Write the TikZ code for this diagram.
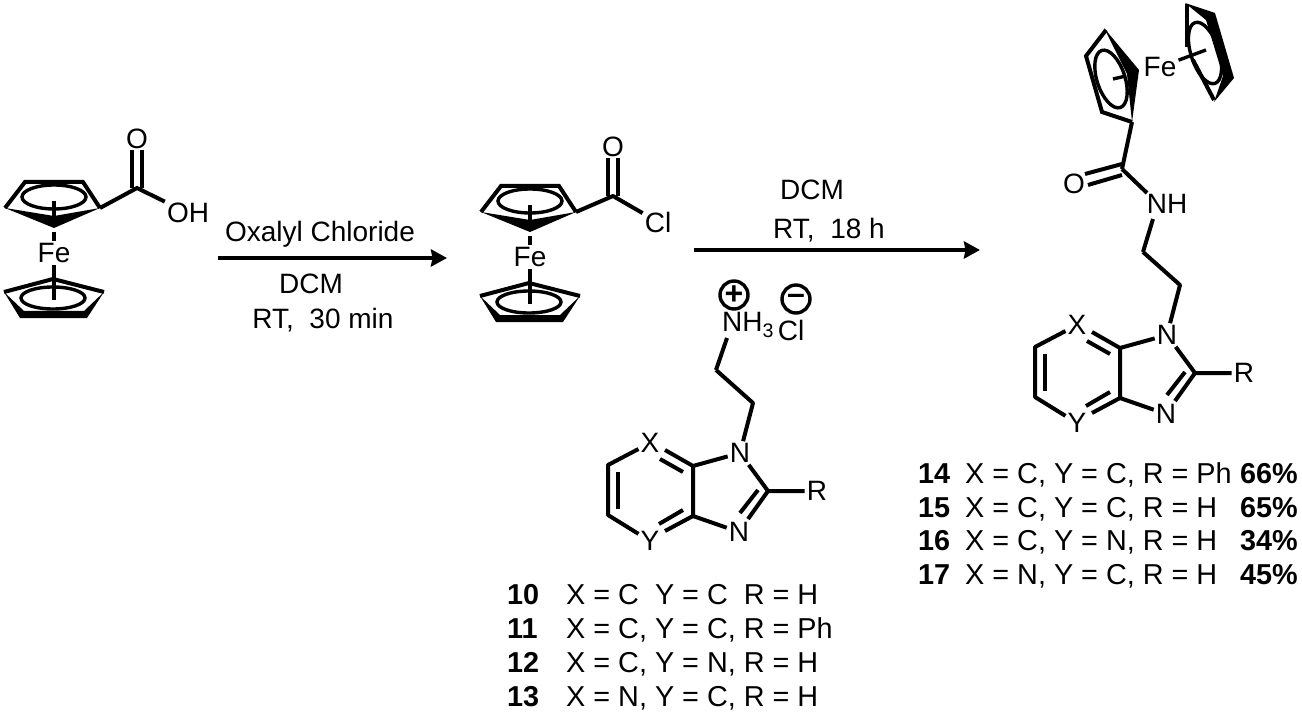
\documentclass[tikz,border=0pt]{standalone}
\usepackage{fontspec}
\setmainfont{Liberation Sans}
\usetikzlibrary{arrows.meta,calc}
\newcommand{\ferrocene}[2]{%
\begin{scope}[shift={(#1)},name prefix=#2-]
\coordinate (capL) at (5,208);
\coordinate (capA) at (25,182);
\coordinate (capB) at (83,182);
\coordinate (ipso) at (100,208);
\coordinate (capF) at (54,228);
\node[atom] (Fe) at (54,253) {Fe};
\draw[bond,line join=miter] (capL) -- (capA) -- (capB) -- (ipso);
\fill (capL) -- (54,216) -- (ipso) -- (capF) -- cycle;
\draw[ring] (54,197) ellipse [x radius=32pt,y radius=12pt];
\draw[ring] (54,201) -- (54,216);
\draw[ring] (54,232) -- (Fe);
%----------------------------------------------------------------
\coordinate (botL) at (4,292);
\coordinate (botA) at (53,279);
\coordinate (botR) at (104,292);
\draw[bond,line join=miter] (botL) -- (botA) -- (botR);
\fill (botL) -- (20,318) -- (87,318) -- (botR) -- (84,311) -- (24,311) -- cycle;
\draw[ring] (53,298) ellipse [x radius=32pt,y radius=11pt];
\draw[ring] (Fe) -- (54,300);
\end{scope}}
\newcommand{\azole}[2]{%
\begin{scope}[shift={(#1)},name prefix=#2-]
\node[atom] (N1) at (1167,335) {N};
\node[atom] (N3) at (1166,414) {N};
\node[atom] (X) at (1077,325) {X};
\node[atom] (Y) at (1077,423) {Y};
\node[atom] (R) at (1244,373) {R};
\coordinate (ch1) at (1180,285);
\coordinate (ch2) at (1143,252);
\coordinate (c2) at (1195,373);
\coordinate (c3a) at (1120,398);
\coordinate (c7a) at (1120,348);
\coordinate (c5) at (1035,397);
\coordinate (c6) at (1035,347);
%----------------------------------------------------------------
\draw[bond] (ch2) -- (ch1) -- (N1);
\draw[bond] (N1) -- (c7a) -- (c3a) -- (N3);
\draw[bond] (N1) -- (c2) -- (R);
\draw[bond] (c2) -- (1175,401);
\draw[bond] (1185,372) -- (1167,395);
\draw[bond] (X) -- (c6) -- (c5) -- (Y);
\draw[bond] (1045,354) -- (1045,391);
\draw[bond] (1092,332) -- (c7a);
\draw[bond] (1087,341) -- (1110,354);
\draw[bond] (1092,413) -- (c3a);
\draw[bond] (1086,406) -- (1110,392);
\end{scope}}
\begin{document}
\begin{tikzpicture}[x=1pt,y=-1pt,
	bond/.style={line width=4pt,line join=round},
	ring/.style={line width=3.4pt},
	atom/.style={inner sep=2pt,font=\fontsize{28}{30}\selectfont},
	tabtext/.style={inner sep=0pt,anchor=base west,font=\fontsize{28.8}{30}\selectfont},
	num/.style={inner sep=0pt,anchor=base west,font=\fontsize{28.8}{30}\selectfont\bfseries},
	yield/.style={inner sep=0pt,anchor=base east,font=\fontsize{28.8}{30}\selectfont\bfseries},
	charge/.style={draw,line width=3.4pt,circle,inner sep=0pt,font=\fontsize{32}{32}\selectfont\bfseries},
	step arrow/.style={line width=4pt,-{Stealth[length=16pt,width=17pt,inset=1.5pt]}}]
\useasboundingbox (0,0) rectangle (1302,714);
%================================================================
%	Acid
\ferrocene{0,0}{fa}
\coordinate (acidC) at (137,188);
\node[atom] (acidO) at (137,139) {O};
\node[atom] (acidOH) at (188,213) {OH};
\draw[bond,double,double distance=6pt,shorten >=-1pt] (acidC) -- (acidO);
\draw[bond] (fa-ipso) -- (acidC) -- (acidOH);
%================================================================
%	Acid chloride
\ferrocene{476,4}{fb}
\coordinate (cloC) at (613,196);
\node[atom] (cloO) at (613,147) {O};
\node[atom] (cloCl) at (658,222) {Cl};
\draw[bond,double,double distance=6pt,shorten >=-1pt] (cloC) -- (cloO);
\draw[bond] (fb-ipso) -- (cloC) -- (cloCl);
%================================================================
%	Amine salt
\azole{-427,118}{am}
\node[atom] (amNH) at (748,325) {NH\textsubscript{3}};
\node[atom] (amCl) at (791,330) {Cl};
\node[charge,minimum size=28pt] (plus) at (734,295) {+};
\node[charge,minimum size=28pt] (minus) at (796,299) {–};
\coordinate (amEnd) at (727,338);
\draw[bond] (am-ch2) -- (amEnd);
%================================================================
%	Product
\azole{0,0}{pr}
\node[atom] (prNH) at (1167,204) {NH};
\node[atom] (prO) at (1074,184) {O};
\node[atom] (prFe) at (1160,67) {Fe};
\coordinate (prC) at (1122,169);
\coordinate (prIpso) at (1132,122);
\coordinate (prEnd) at (1153,219);
\draw[bond] (prEnd) -- (pr-ch2);
\draw[bond] (prIpso) -- (prC);
\draw[bond] (prC) -- (1147,193);
\draw[bond] (1085,174) -- (1122,164);
\draw[bond] (1088,185) -- (1122,175);
%----------------------------------------------------------------
\draw[bond,line join=miter] (1106,30) -- (1086,56) -- (1102,112) -- (prIpso);
\fill (1104,28) -- (1139,70) -- (prIpso) -- (1127,74) -- cycle;
\draw[ring,rotate around={18:(1111,79)}] (1111,79) ellipse [x radius=14pt,y radius=30pt];
\draw[ring] (1113,79) -- (1126,76);
%----------------------------------------------------------------
\draw[bond] (1187,47) -- (1187,4);
\fill (1185,3) -- (1215,13) -- (1234,78) -- (1214,102) -- (1223,76) -- (1206,20) -- cycle;
\draw[bond] (1193,60) -- (1214,100);
\draw[ring,rotate around={18:(1205,53)}] (1205,53) ellipse [x radius=14pt,y radius=32pt];
\draw[ring] (prFe) -- (1206,50);
%================================================================
%	Arrows
\coordinate (a1s) at (218,258);
\coordinate (a1e) at (447,258);
\coordinate (a2s) at (694,250);
\coordinate (a2e) at (980,250);
\draw[step arrow] (a1s) -- (a1e);
\draw[step arrow] (a2s) -- (a2e);
\node[atom] (oxa) at (320,234) {Oxalyl Chloride};
\node[atom] (dcma) at (311,284) {DCM};
\node[atom] (rta) at (323,320) {RT,\ \ 30 min};
\node[atom] (dcmb) at (812,190) {DCM};
\node[atom] (rtb) at (829,230) {RT,\ \ 18 h};
%================================================================
%	Tables
\node[num] (n10) at (507,604) {10};
\node[num] (n11) at (507,638) {11};
\node[num] (n12) at (507,672) {12};
\node[num] (n13) at (507,706) {13};
\node[tabtext] (t10) at (566,604) {X = C\ \ Y = C\ \ R = H};
\node[tabtext] (t11) at (566,638) {X = C, Y = C, R = Ph};
\node[tabtext] (t12) at (566,672) {X = C, Y = N, R = H};
\node[tabtext] (t13) at (566,706) {X = N, Y = C, R = H};
%----------------------------------------------------------------
\node[num] (n14) at (918,483) {14};
\node[num] (n15) at (918,517) {15};
\node[num] (n16) at (918,550) {16};
\node[num] (n17) at (918,584) {17};
\node[tabtext] (t14) at (965,483) {X = C, Y = C, R = Ph};
\node[tabtext] (t15) at (965,517) {X = C, Y = C, R = H};
\node[tabtext] (t16) at (965,550) {X = C, Y = N, R = H};
\node[tabtext] (t17) at (965,584) {X = N, Y = C, R = H};
\node[yield] (p14) at (1298,483) {66\%};
\node[yield] (p15) at (1298,517) {65\%};
\node[yield] (p16) at (1298,550) {34\%};
\node[yield] (p17) at (1298,584) {45\%};
%================================================================
\end{tikzpicture}
\end{document}
